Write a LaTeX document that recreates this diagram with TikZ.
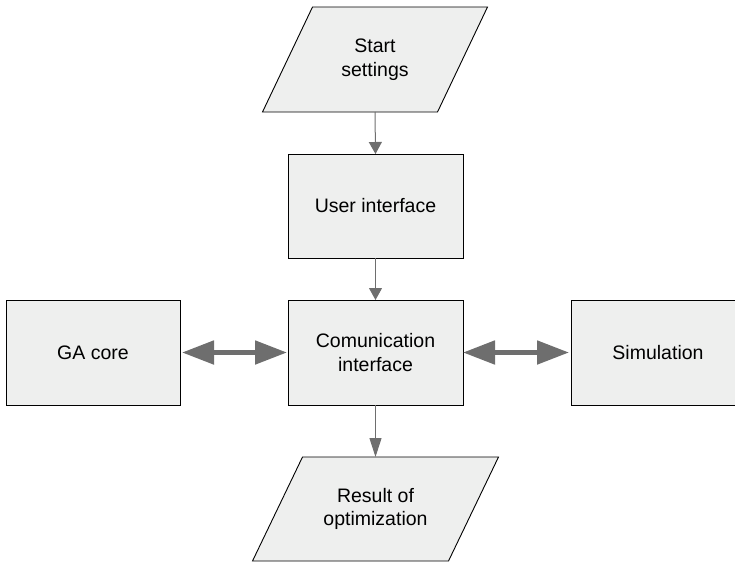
\documentclass[tikz,border=0pt]{standalone}
\usepackage{fontspec}
\setmainfont{Liberation Sans}
\usetikzlibrary{arrows.meta,backgrounds}
\definecolor{boxfill}{RGB}{238,239,238}
\definecolor{linkgray}{RGB}{110,110,110}
\begin{document}
\begin{tikzpicture}[x=1pt,y=-1pt,
  every node/.style={font=\fontsize{19.5}{23.5}\selectfont, align=center, inner sep=0pt, outer sep=0pt},
  block/.style={draw=black, line width=0.9pt, fill=boxfill, minimum width=174pt, minimum height=105pt},
  iobox/.style={minimum width=175pt, minimum height=105pt},
  iofill/.style={draw=black, line width=0.9pt, fill=boxfill},
  flow/.style={draw=linkgray, line width=1pt, -{Triangle[length=12pt,width=13pt]}, linkgray},
  exchange/.style={draw=linkgray, line width=5pt, {Triangle[length=32pt,width=23pt]}-{Triangle[length=32pt,width=23pt]}, linkgray}]
  \useasboundingbox (0,0) rectangle (735,562);

  % input / output parallelograms (text nodes; outlines drawn behind)
  \node[iobox] (start) at (375,59.5) {Start\\settings};
  \node[iobox, minimum width=196pt, minimum height=104pt] (result) at (375.5,509) {Result of\\optimization};

  \begin{scope}[on background layer]
    \path[iofill] ([xshift=25pt]start.north west) -- ([xshift=25pt]start.north east)
      -- ([xshift=-25pt]start.south east) -- ([xshift=-25pt]start.south west) -- cycle;
    \path[iofill] ([xshift=25pt]result.north west) -- ([xshift=25pt]result.north east)
      -- ([xshift=-25pt]result.south east) -- ([xshift=-25pt]result.south west) -- cycle;
  \end{scope}

  % process blocks
  \node[block, minimum width=175pt, minimum height=104pt] (ui) at (375.5,206) {User interface};
  \node[block, minimum width=175pt] (com) at (375.5,352.5) {Comunication\\interface};
  \node[block] (ga) at (93,352.5) {GA core};
  \node[block] (sim) at (658,352.5) {Simulation};

  % vertical flow
  \draw[flow] (start.south) -- (ui.north);
  \draw[flow] (ui.south) -- (com.north);
  \draw[flow, -{Triangle[length=19pt,width=12pt]}] (com.south) -- (result.north);

  % data exchange with the core and the simulation
  \draw[exchange] ([xshift=2pt]ga.east) -- ([xshift=-1pt]com.west);
  \draw[exchange] (com.east) -- ([xshift=-2pt]sim.west);
\end{tikzpicture}
\end{document}
